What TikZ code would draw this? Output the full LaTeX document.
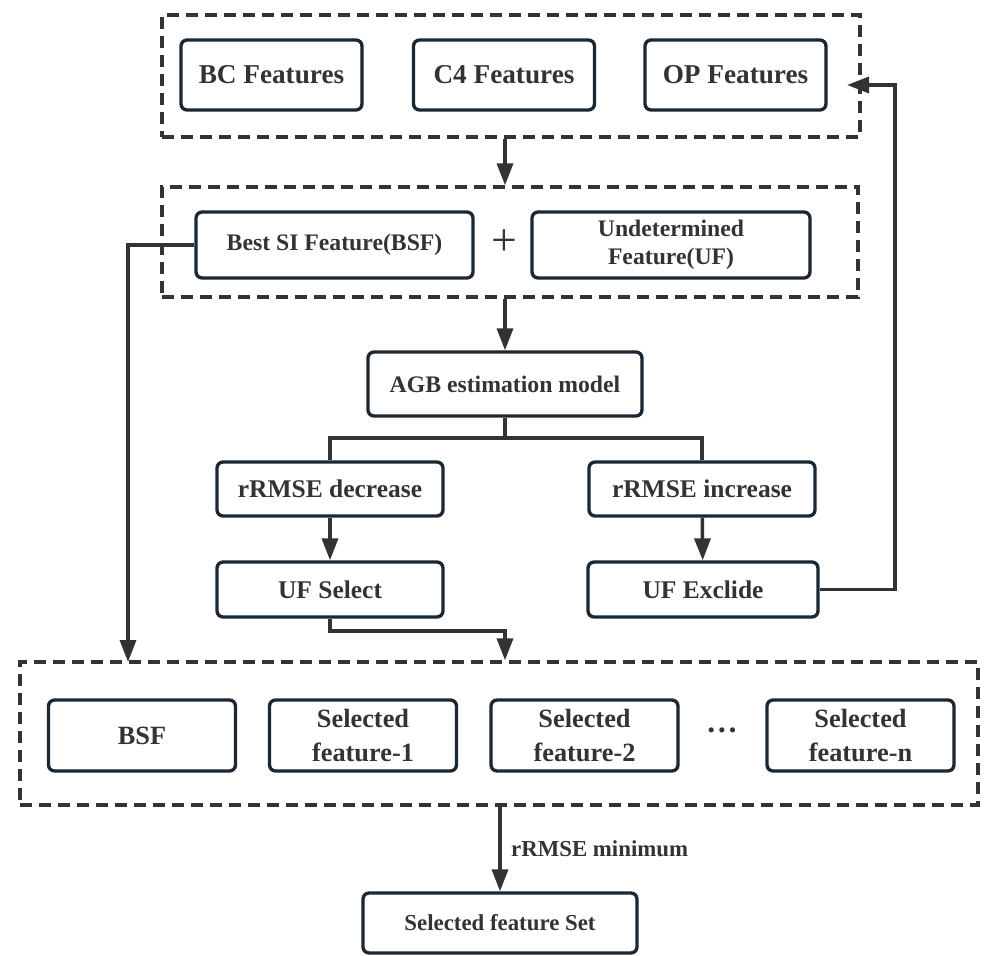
\documentclass[tikz,border=0pt]{standalone}
\usepackage{fontspec}
\setmainfont{Liberation Serif}[BoldFont={Liberation Serif Bold}]
\usetikzlibrary{arrows.meta,positioning}
\definecolor{boxline}{HTML}{1B2733}
\definecolor{inkgray}{HTML}{333333}
\tikzset{
    box/.style={draw=boxline, line width=1.9pt, rounded corners=0.12cm, inner sep=0pt,
        align=center, text=inkgray, font=\bfseries\fontsize{15}{19}\selectfont},
    midbox/.style={box, font=\bfseries\fontsize{13.5}{16}\selectfont},
    grp/.style={draw=inkgray, line width=1.9pt, dash pattern=on 0.24cm off 0.14cm, inner sep=0pt},
    arr/.style={draw=inkgray, line width=2pt, -{Triangle[length=0.44cm,width=0.32cm]}},
    link/.style={draw=inkgray, line width=2pt}
}

\begin{document}
\begin{tikzpicture}[x=0.02cm, y=-0.02cm]
    \useasboundingbox (0,0) rectangle (984,956);

    \node[grp, minimum width=13.96cm, minimum height=2.44cm] (topgrp) at (511,76) {};
    \node[box, minimum width=3.62cm, minimum height=1.4cm, font=\bfseries\fontsize{15.5}{18}\selectfont] (bc) at (271.5,75) {BC Features};
    \node[box, minimum width=3.62cm, minimum height=1.4cm, font=\bfseries\fontsize{15.5}{18}\selectfont] (c4) at (504,75) {C4 Features};
    \node[box, minimum width=3.62cm, minimum height=1.4cm, font=\bfseries\fontsize{15.5}{18}\selectfont] (op) at (735.5,75) {OP Features};

    \node[grp, minimum width=13.92cm, minimum height=2.2cm] (midgrp) at (510,242) {};
    \node[midbox, minimum width=5.54cm, minimum height=1.32cm] (bsf) at (334.5,245) {Best SI Feature(BSF)};
    \node[text=inkgray, font=\fontsize{26}{26}\selectfont] (plus) at (504,243) {+};
    \node[midbox, minimum width=5.56cm, minimum height=1.32cm] (uf) at (671,245) {Undetermined\\Feature(UF)};

    \node[midbox, minimum width=5.48cm, minimum height=1.28cm] (agb) at (505,384) {AGB estimation model};
    \coordinate (split) at (505,438);

    \node[box, minimum width=4.52cm, minimum height=1.08cm, font=\bfseries\fontsize{14.5}{17}\selectfont] (dec) at (330,489) {rRMSE decrease};
    \node[box, minimum width=4.52cm, minimum height=1.08cm, font=\bfseries\fontsize{14.5}{17}\selectfont] (inc) at (702,489) {rRMSE increase};
    \node[box, minimum width=4.52cm, minimum height=1.1cm, font=\bfseries\fontsize{14.5}{17}\selectfont] (ufsel) at (330,589.5) {UF Select};
    \node[box, minimum width=4.6cm, minimum height=1.1cm, font=\bfseries\fontsize{14.5}{17}\selectfont] (ufexc) at (703,589.5) {UF Exclide};

    \node[grp, minimum width=19.16cm, minimum height=2.86cm] (botgrp) at (499,733.5) {};
    \node[box, minimum width=3.74cm, minimum height=1.42cm] (bsfout) at (142,735.5) {BSF};
    \node[box, minimum width=3.74cm, minimum height=1.42cm] (sel1) at (363,735.5) {Selected\\feature-1};
    \node[box, minimum width=3.74cm, minimum height=1.42cm] (sel2) at (584.5,735.5) {Selected\\feature-2};
    \node[text=inkgray, font=\bfseries\fontsize{18}{18}\selectfont] (dots) at (722,730) {\dots};
    \node[box, minimum width=3.74cm, minimum height=1.42cm] (seln) at (860.5,735.5) {Selected\\feature-n};

    \node[box, minimum width=5.48cm, minimum height=1.2cm, font=\bfseries\fontsize{13}{16}\selectfont] (set) at (500,923) {Selected feature Set};

    \coordinate (opin) at (847,85);
    \coordinate (selelbow) at (505,631);

    \draw[arr] (agb.north |- topgrp.south) -- (agb.north |- midgrp.north);
    \draw[arr] (agb.north |- midgrp.south) -- (agb.north);
    \draw[link] (agb.south) -- (split) -| (dec.north);
    \draw[link] (split) -| (inc.north);
    \draw[arr] (dec) -- (ufsel);
    \draw[arr] (inc) -- (ufexc);
    \draw[arr] (ufsel.south) |- (selelbow) -- (selelbow |- botgrp.north);
    \draw[arr] (bsf.west) -| (128,662);
    \draw[arr] (ufexc.east) -| (895,85) -- (opin);
    \draw[arr] (set.north |- botgrp.south) -- node[right, text=inkgray, font=\bfseries\fontsize{13}{16}\selectfont, xshift=2pt] {rRMSE minimum} (set.north);
\end{tikzpicture}
\end{document}
